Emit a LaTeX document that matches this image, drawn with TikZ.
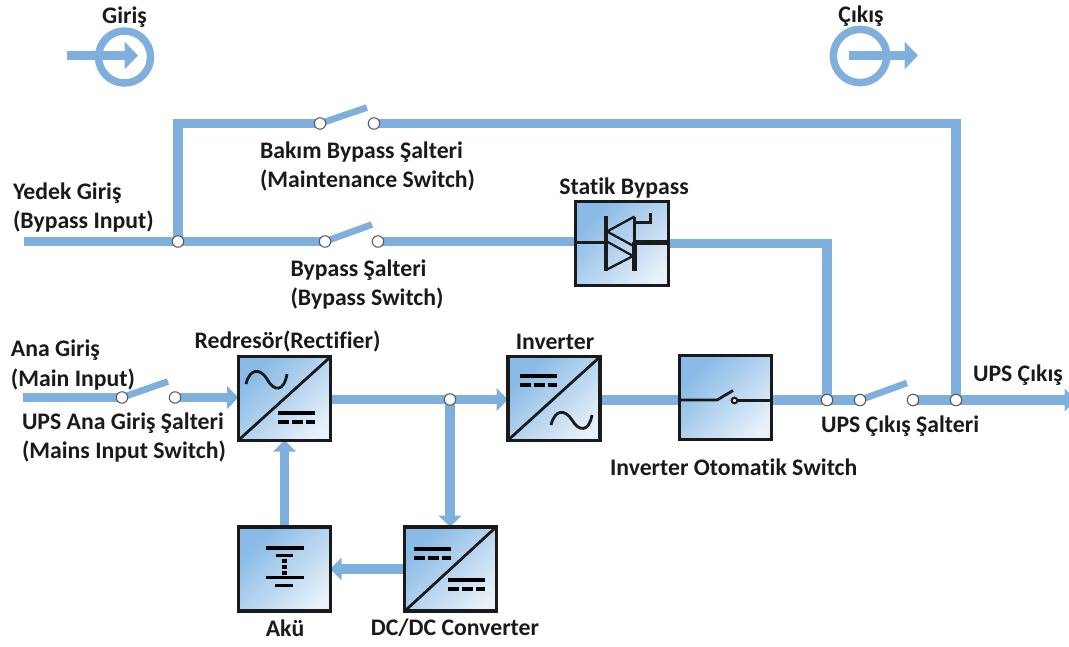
\documentclass[tikz,border=0pt]{standalone}
\usepackage{fontspec}
\setmainfont{Carlito}[Ligatures=NoCommon]
\usetikzlibrary{arrows.meta,backgrounds}
\definecolor{wirec}{HTML}{7FAFDC}
\definecolor{inkc}{HTML}{1A1A1A}
\definecolor{gl}{HTML}{E8F2FA}
\definecolor{gm}{HTML}{B4D3EF}
\definecolor{gd}{HTML}{8ABBE6}
\pgfdeclareverticalshading{boxgrad}{100bp}{color(0bp)=(gl); color(22bp)=(gl); color(50bp)=(gm); color(72bp)=(gd); color(100bp)=(gd)}
\tikzset{
  wire/.style={draw=wirec,line width=6.8pt},
  wirearrow/.style={wire,-{Triangle[length=8.5pt,width=16.5pt]}},
  symarrow/.style={wire,-{Triangle[length=10pt,width=20pt]}},
  blade/.style={draw=wirec,line width=5pt},
  contact/.style={circle,draw=black!65,fill=white,line width=0.8pt,minimum size=8.6pt,inner sep=0pt,outer sep=0pt},
  unit/.style={draw=inkc,line width=2.4pt,shade,shading=boxgrad,shading angle=45,inner sep=0pt,outer sep=0pt},
  ring/.style={circle,draw=wirec,line width=5.6pt,inner sep=0pt,outer sep=0pt},
  lab/.style={font=\bfseries\fontsize{17.8}{21.8}\selectfont,text=inkc,inner sep=0pt,outer sep=0pt,align=left},
  labw/.style={lab,anchor=west},
  ink/.style={draw=inkc,line width=2.1pt},
  thin ink/.style={draw=inkc,line width=1.7pt},
  dcs/.style={draw=black,line width=3.2pt},
  dcd/.style={draw=black,line width=3.2pt,dash pattern=on 8pt off 2.4pt},
}
\newcommand{\dcsym}[2]{%
  \path[dcs] (#1,#2) -- ++(37,0);
  \path[dcd] (#1,#2+9) -- ++(37,0);
}
\begin{document}
\begin{tikzpicture}[x=0.75pt,y=-0.75pt]
\useasboundingbox (0,0) rectangle (1069,646);
% units
\node[unit,minimum width=69pt,minimum height=62.5pt] (rect) at (284.5,398.5) {};
\node[unit,minimum width=69pt,minimum height=62.5pt] (inv) at (554,398.5) {};
\node[unit,minimum width=68.5pt,minimum height=63pt] (auto) at (725.5,397.5) {};
\node[unit,minimum width=70pt,minimum height=63.5pt] (stat) at (622,243.5) {};
\node[unit,minimum width=68.5pt,minimum height=63pt] (batt) at (284.5,569) {};
\node[unit,minimum width=68.5pt,minimum height=63pt] (dcdc) at (450.5,569) {};
% contacts and junctions
\node[contact] (s1a) at (320,123.5) {};
\node[contact] (s1b) at (374,123.5) {};
\node[contact] (j1) at (178,241.5) {};
\node[contact] (s2a) at (325,241.5) {};
\node[contact] (s2b) at (378,241.5) {};
\node[contact] (s3a) at (122,397.5) {};
\node[contact] (s3b) at (175,397.5) {};
\node[contact] (j2) at (450,399.5) {};
\node[contact] (j3) at (827,400) {};
\node[contact] (s4a) at (860,400) {};
\node[contact] (s4b) at (913,400) {};
\node[contact] (j4) at (956,400) {};
\node[ring,minimum size=39pt] (gc) at (124.5,57) {};
\node[ring,minimum size=40pt] (cc) at (860,56) {};
\coordinate (gs) at (67,55.5);
\coordinate (gt) at (138,55.5);
\coordinate (cs) at (849,55.5);
\coordinate (ct) at (918,55.5);
\coordinate (in1) at (24,241.5);
\coordinate (in2) at (23,397.5);
\coordinate (outp) at (1076,400);
\coordinate (b1) at (367,107.5);
\coordinate (b2) at (372,224.5);
\coordinate (b3) at (168,381.5);
\coordinate (b4) at (907,383);
\begin{scope}[on background layer]
  \draw[wire] (j1.center) |- (s1a.center);
  \draw[wire] (s1b.center) -| (j4.center);
  \draw[wire] (in1) -- (s2a.center);
  \draw[wire] (s2b.center) -- (stat.west |- s2b);
  \draw[wire] (stat.east) -| (j3.center);
  \draw[wire] (in2) -- (s3a.center);
  \draw[wire] (inv.east |- j3) -- (auto.west |- j3);
  \draw[wire] (auto.east |- j3) -- (s4a.center);
  \draw[wire] (rect.east |- j2) -- (j2.center);
  \draw[blade] (s1a.center) -- (b1);
  \draw[blade] (s2a.center) -- (b2);
  \draw[blade] (s3a.center) -- (b3);
  \draw[blade] (s4a.center) -- (b4);
  \draw[wire] (s4b.center) -- (j4.center);
  \draw[symarrow] (gs) -- (gt);
  \draw[symarrow] (cs) -- (ct);
  \draw[wirearrow] (s3b.center) -- (rect.west |- s3b);
  \draw[wirearrow] (j2.center) -- (inv.west |- j2);
  \draw[wirearrow] (j2.center) -- (j2 |- dcdc.north);
  \draw[wirearrow] (dcdc.west) -- (batt.east);
  \draw[wirearrow] (batt.north) -- (rect.south);
  \draw[wirearrow] (j4.center) -- (outp);
\end{scope}
% diagonals
\draw[ink] (rect.south west) -- (rect.north east);
\draw[ink] (inv.south west) -- (inv.north east);
\draw[ink] (dcdc.south west) -- (dcdc.north east);
% DC symbols
\dcsym{278}{413}
\dcsym{520}{376}
\dcsym{414}{549}
\dcsym{448}{580}
% sines
\draw[ink] (246,384) .. controls (250,368) and (260,368) .. (267,379) .. controls (274,392) and (284,392) .. (287,374);
\draw[ink] (551,425) .. controls (555,409) and (565,409) .. (572,420) .. controls (579,432) and (589,432) .. (592,415);
% battery
\path[dcs,line width=2.8pt] (266,548) -- (303.5,548);
\path[dcs,line width=2.8pt] (276,555.5) -- (293,555.5);
\draw[draw=black,line width=3.4pt,dash pattern=on 3pt off 1.5pt] (284.5,559) -- (284.5,576);
\path[dcs,line width=2.8pt] (266,577.5) -- (303.5,577.5);
\path[dcs,line width=2.8pt] (275,585.5) -- (293,585.5);
% thyristors
\draw[ink,line width=2.4pt] (stat.west |- 606,242.3) -- (606,242.3);
\draw[ink,line width=3.4pt] (634.5,242.3) -- (stat.east |- 634.5,242.3);
\draw[ink,line width=2.6pt] (606,215.5) -- (606,270.5);
\draw[ink,line width=3.6pt] (634.5,242) -- (634.5,271);
\draw[thin ink] (634.5,216.5) -- (634.5,243);
\draw[thin ink] (634.5,216.5) -- (607,231.5) -- (634.5,246.5);
\draw[thin ink] (606,241) -- (633,256) -- (606,270);
\draw[thin ink] (634.5,222.5) -- (650.5,222.5) -- (650.5,213);
% automatic switch
\draw[ink] (auto.west |- 717,400) -- (717,400) -- (733,390.5);
\draw[ink,line width=2.8pt] (735,400.5) -- (auto.east |- 735,400.5);
\draw[ink,fill=white,line width=1.6pt] (734.5,400.5) circle (2.8);
% labels
\node[lab] (l1) at (124.5,17.5) {Giriş};
\node[lab] (l2) at (861,16) {Çıkış};
\node[labw] (l3) at (260,166.5) {Bakım Bypass Şalteri\\(Maintenance Switch)};
\node[labw] (l4) at (13,208) {Yedek Giriş\\(Bypass Input)};
\node[labw] (l5) at (290.5,285) {Bypass Şalteri\\(Bypass Switch)};
\node[lab] (l6) at (624,188) {Statik Bypass};
\node[labw] (l7) at (11,365) {Ana Giriş\\(Main Input)};
\node[lab] (l8) at (287.5,341) {Redresör(Rectifier)};
\node[labw] (l9) at (22,437.5) {UPS Ana Giriş Şalteri\\(Mains Input Switch)};
\node[lab] (l10) at (555,342) {Inverter};
\node[labw] (l11) at (973,375) {UPS Çıkış};
\node[labw] (l12) at (821,426) {UPS Çıkış Şalteri};
\node[labw] (l13) at (610,467) {Inverter Otomatik Switch};
\node[lab] (l14) at (285,628) {Akü};
\node[lab] (l15) at (455,628) {DC/DC Converter};
\end{tikzpicture}
\end{document}
